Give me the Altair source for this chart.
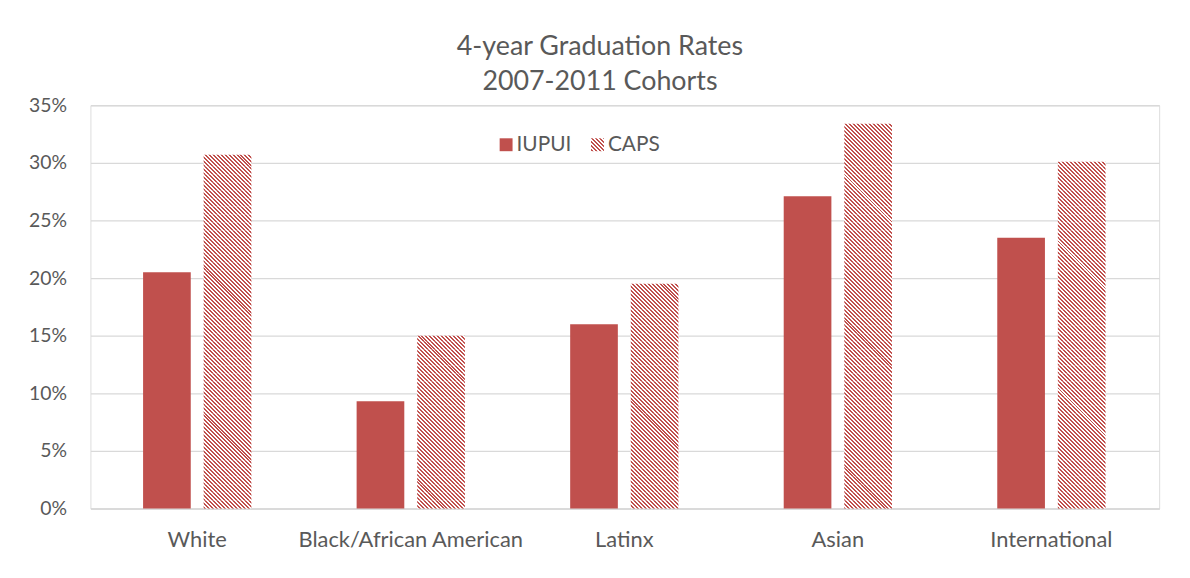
import math
import altair as alt
import pandas as pd

categories = ["White", "Black/African American", "Latinx", "Asian", "International"]
series = ["IUPUI", "CAPS"]
iupui = [0.205, 0.093, 0.160, 0.271, 0.235]
caps = [0.307, 0.150, 0.195, 0.334, 0.301]
y_ticks = [0, 0.05, 0.10, 0.15, 0.20, 0.25, 0.30, 0.35]
title_lines = ["4-year Graduation Rates", "2007-2011 Cohorts"]

RED = "#C0504D"
WHITE = "#FFFFFF"
GRID = "#D9D9D9"
TXT = "#595959"
FONT = "Lato"
W, H = 1076, 406
YMAX = 0.35
PI = 0.4925   # outer band padding
Q = 0.215     # inner (series) padding
PERIOD = 4.0  # horizontal stripe period in px
SEG_PX = 8    # hatch painted in short slices (keeps gradients crisp)
SEG = SEG_PX * YMAX / H


def band(width, n, p_in, p_out):
    """Vega band scale geometry with round=True."""
    space = n - p_in + 2 * p_out
    st = math.floor(width / space)
    s0 = width - st * (n - p_in)
    s0 = round(s0 * 0.5 + 1e-9)
    bw = round(st * (1 - p_in) + 1e-9)
    return s0, st, bw


start, step, group_w = band(W, len(categories), PI, PI / 2)
sub_start, sub_step, bar_w = band(group_w, 2, Q, 0)


def stripe_stops(L, phase):
    stops = []
    s = phase - PERIOD
    while s < L:
        for col in (RED, WHITE):
            a = max(s, 0.0)
            b = min(s + PERIOD / 2, L)
            if b > a:
                stops += [(a / L, col), (b / L, col)]
            s += PERIOD / 2
    return stops


def stripe_gradient(w, h, x0, yb):
    L = w + h
    k = L / (w * w + h * h)
    phase = (0.5 + yb - x0) % PERIOD
    return alt.LinearGradient(
        gradient="linear", x1=0, y1=1, x2=w * k, y2=1 - h * k,
        stops=[alt.GradientStop(offset=round(o, 6), color=c) for o, c in stripe_stops(L, phase)],
    )


sw = 13.0
leg_stops = ",".join(
    "{'offset':%s,'color':'%s'}" % (round(o, 6), c) for o, c in stripe_stops(2 * sw, 0.5)
)
leg_expr = "{'gradient':'linear','x1':0,'y1':1,'x2':1,'y2':0,'stops':[" + leg_stops + "]}"

df_i = pd.DataFrame({"cat": categories, "series": "IUPUI", "value": iupui})

x_enc = alt.X(
    "cat:N", sort=categories, title=None,
    scale=alt.Scale(paddingInner=PI, paddingOuter=PI / 2, round=True),
    axis=alt.Axis(labelAngle=0, ticks=False, domainColor=GRID, domainWidth=1.5,
                  labelPadding=21, labelFontSize=22, labelColor=TXT, labelFont=FONT,
                  labelLimit=0, grid=False),
)
xo_enc = alt.XOffset("series:N", sort=series,
                     scale=alt.Scale(domain=series, paddingInner=Q, paddingOuter=0, round=True))
y_axis = alt.Axis(values=y_ticks, format=".0%", domain=False, ticks=False, grid=True,
                  gridColor=GRID, gridWidth=1.3, labelPadding=24, labelFontSize=19.5,
                  labelColor=TXT, labelFont=FONT)
y_scale = alt.Scale(domain=[0, YMAX], nice=False)

base_i = alt.Chart(df_i).mark_bar().encode(
    x=x_enc, xOffset=xo_enc,
    y=alt.Y("value:Q", title=None, scale=y_scale, axis=y_axis),
    fill=alt.Fill(
        "series:N",
        scale=alt.Scale(domain=series, range=[RED, alt.ExprRef(expr=leg_expr)]),
        legend=alt.Legend(orient="none", legendX=408, legendY=29, direction="horizontal",
                          title=None, symbolType="square", symbolSize=169,
                          symbolStrokeWidth=0, symbolOpacity=1, labelFontSize=21,
                          labelColor=TXT, labelFont=FONT, columnPadding=15, labelOffset=0),
    ),
)

layers = [base_i]
for i, (cat, v) in enumerate(zip(categories, caps)):
    x0 = start + step * i + sub_start + sub_step
    nfull = int(v / SEG + 1e-9)
    full = pd.DataFrame({
        "cat": cat, "series": "CAPS",
        "lo": [k * SEG for k in range(nfull)],
        "hi": [(k + 1) * SEG for k in range(nfull)],
    })
    parts = [(full, SEG_PX, H)]
    rem_lo = nfull * SEG
    if v - rem_lo > 1e-9:
        rem = pd.DataFrame({"cat": [cat], "series": ["CAPS"], "lo": [rem_lo], "hi": [v]})
        parts.append((rem, (v - rem_lo) / YMAX * H, H - nfull * SEG_PX))
    for dfp, hpx, yb in parts:
        layers.append(
            alt.Chart(dfp).mark_bar(fill=stripe_gradient(bar_w, hpx, x0, yb)).encode(
                x=x_enc, xOffset=xo_enc,
                y=alt.Y("lo:Q", title=None, scale=y_scale, axis=y_axis),
                y2="hi:Q",
            )
        )

chart = alt.layer(*layers).properties(
    width=W, height=H,
    autosize=alt.AutoSizeParams(type="none"),
    padding={"left": 83, "top": 96, "right": 23, "bottom": 64},
    title=alt.TitleParams(text=title_lines, fontSize=27, font=FONT, color=TXT,
                          fontWeight="normal", anchor="middle", dx=-25, dy=6, offset=5,
                          lineHeight=36),
).configure_view(stroke=None).configure(background="white")

chart.save("out.html", embed_options={"renderer": "svg", "actions": False})
